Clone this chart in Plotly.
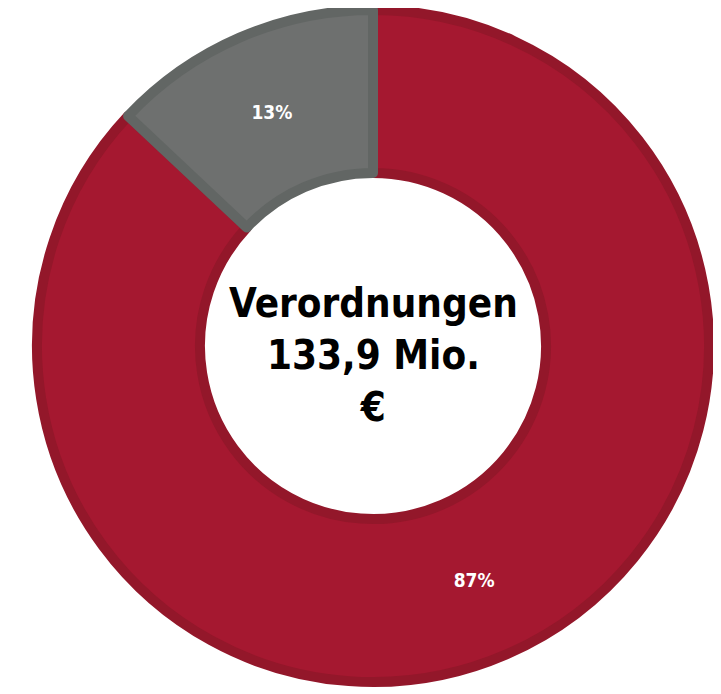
import plotly.graph_objects as go

labels = ["Verordnungen Anteil A", "Verordnungen Anteil B"]
values = [87, 13]
text_labels = ["87%", "13%"]
fill_colors = ["#A51830", "#6E706F"]
edge_colors = ["#93172A", "#626664"]
center_lines = ["Verordnungen", "133,9 Mio.", "€"]

W, H = 721, 694
# page body has 8px default margin -> compensate
cx, cy = 365, 338
R = 336

fig = go.Figure(
    go.Pie(
        labels=labels,
        values=values,
        text=text_labels,
        textinfo="text",
        textposition="inside",
        insidetextorientation="horizontal",
        sort=False,
        direction="clockwise",
        rotation=0,
        hole=0.515,
        marker=dict(colors=fill_colors, line=dict(color=edge_colors, width=10)),
        textfont=dict(family="DejaVu Sans Condensed", size=19, color="white", weight="bold"),
        domain=dict(x=[(cx - R) / W, (cx + R) / W], y=[(H - cy - R) / H, (H - cy + R) / H]),
        showlegend=False,
        hoverinfo="skip",
    )
)

fig.add_annotation(
    x=cx / W, y=(H - cy) / H, xref="paper", yref="paper",
    text="<br>".join(f"<b>{t}</b>" for t in center_lines),
    showarrow=False,
    yshift=-9,
    font=dict(family="DejaVu Sans Condensed", size=40, color="black"),
    align="center",
)

fig.update_layout(
    width=W, height=H,
    margin=dict(l=0, r=0, t=0, b=0),
    paper_bgcolor="white", plot_bgcolor="white",
)

fig.write_html("out.html")
